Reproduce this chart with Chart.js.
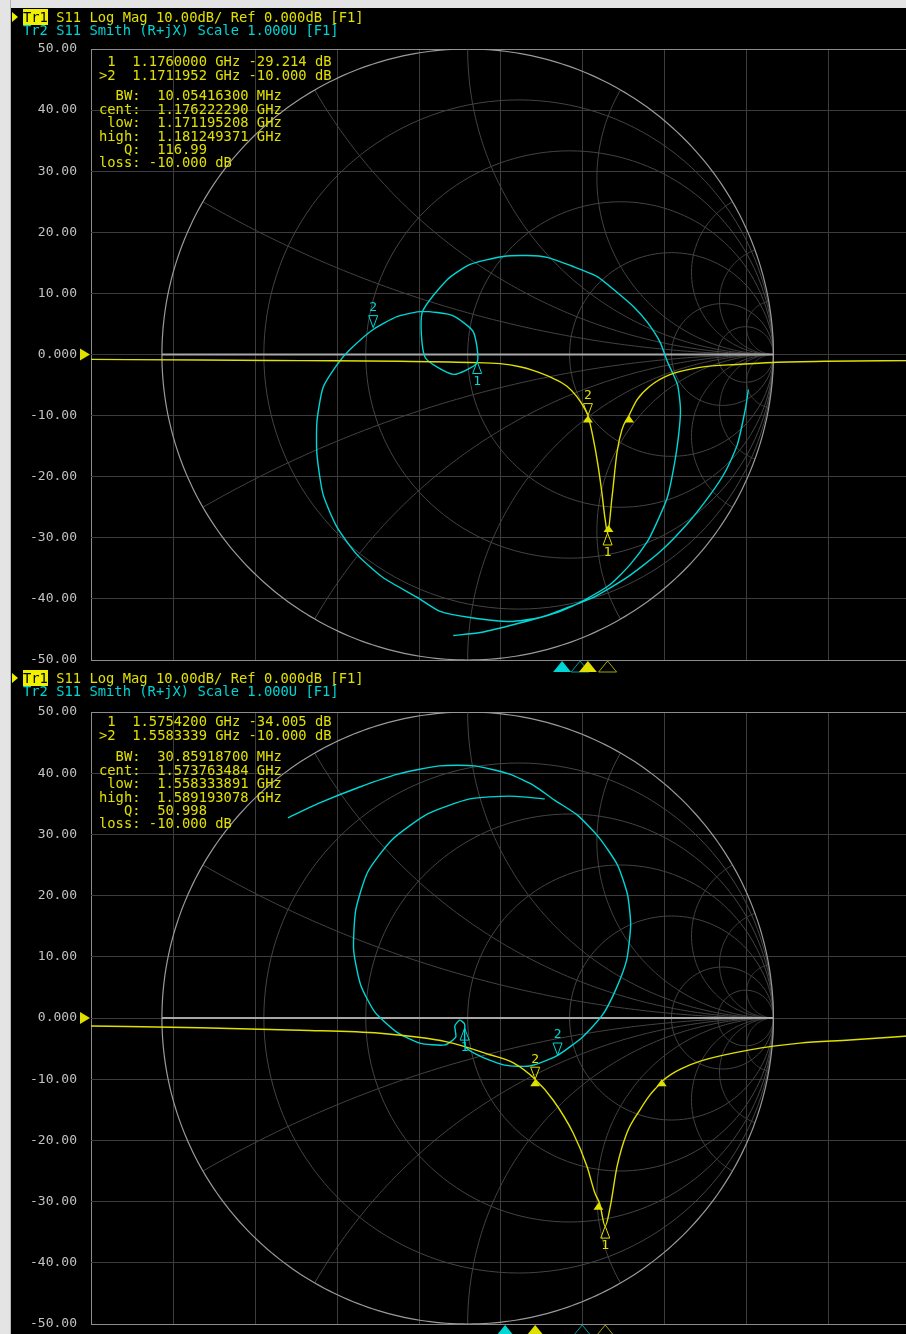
<!DOCTYPE html>
<html>
<head>
<meta charset="utf-8">
<title>S11 Log Mag / Smith</title>
<script src="https://cdn.jsdelivr.net/npm/chart.js@4.4.1/dist/chart.umd.min.js"></script>
<style>
  html, body { margin: 0; padding: 0; background: #000; overflow: hidden; }
  body { width: 906px; height: 1334px; position: relative; font-family: 'DejaVu Sans Mono', monospace; }
  canvas { position: absolute; left: 0; }
  #c1 { top: 0; }
  #c2 { top: 668px; }
  .txt { position: absolute; font-size: 13.8px; line-height: 13.4px; white-space: pre; }
  .yel { color: #e0e000; }
  .cya { color: #00d4d4; }
  .tr1 { background: #f0f000; color: #000; }
  .arrow { position: absolute; left: 12px; width: 0; height: 0; border-left: 6px solid #f0f000;
           border-top: 5px solid transparent; border-bottom: 5px solid transparent; }
  .frame-l { position: absolute; left: 0; top: 0; width: 10px; height: 1334px; background: #e4e4e4; border-right: 1px solid #b4b4b4; }
  .frame-t { position: absolute; left: 0; top: 0; width: 906px; height: 8px; background: #e4e4e4; }
</style>
</head>
<body>
<canvas id="c1" width="915" height="676"></canvas>
<canvas id="c2" width="915" height="666"></canvas>

<!-- upper screen -->
<div class="arrow" style="top:12px"></div>
<div class="txt" style="left:23px;top:11px"><span class="tr1">Tr1</span><span class="yel"> S11 Log Mag 10.00dB/ Ref 0.000dB [F1]</span>
<span class="cya">Tr2 S11 Smith (R+jX) Scale 1.000U [F1]</span></div>
<div class="txt yel" style="left:99px;top:55.3px"> 1  1.1760000 GHz -29.214 dB
>2  1.1711952 GHz -10.000 dB</div>
<div class="txt yel" style="left:99px;top:89.3px">  BW:  10.05416300 MHz
cent:  1.176222290 GHz
 low:  1.171195208 GHz
high:  1.181249371 GHz
   Q:  116.99
loss: -10.000 dB</div>

<!-- lower screen -->
<div class="arrow" style="top:673px"></div>
<div class="txt" style="left:23px;top:671.5px"><span class="tr1">Tr1</span><span class="yel"> S11 Log Mag 10.00dB/ Ref 0.000dB [F1]</span>
<span class="cya">Tr2 S11 Smith (R+jX) Scale 1.000U [F1]</span></div>
<div class="txt yel" style="left:99px;top:715.3px"> 1  1.5754200 GHz -34.005 dB
>2  1.5583339 GHz -10.000 dB</div>
<div class="txt yel" style="left:99px;top:750.3px">  BW:  30.85918700 MHz
cent:  1.573763484 GHz
 low:  1.558333891 GHz
high:  1.589193078 GHz
   Q:  50.998
loss: -10.000 dB</div>

<div class="frame-t"></div>
<div class="frame-l"></div>

<script>
// ---------- upper screen: 1.05 - 1.25 GHz ----------
const freq1 = [1.0500, 1.0766, 1.1010, 1.1254, 1.1424, 1.1498, 1.1546, 1.1578, 1.1627, 1.1661,
               1.1685, 1.1705, 1.1712, 1.1724, 1.1737, 1.1746, 1.1754, 1.1760, 1.1771, 1.1783,
               1.1795, 1.1812, 1.1832, 1.1863, 1.1912, 1.1985, 1.2083, 1.2163, 1.2295, 1.2500];
const logMag1 = [-0.8, -0.9, -1.0, -1.1, -1.3, -1.5, -2.0, -2.6, -3.9, -5.2,
                 -6.9, -9.0, -10.0, -13.4, -18.3, -22.6, -27.0, -29.2, -23.2, -16.0,
                 -12.3, -10.0, -7.4, -5.2, -3.3, -2.1, -1.6, -1.3, -1.1, -1.0];
// S11 as reflection coefficient (real, imag)
const smithRe1 = [0.918, 0.908, 0.882, 0.843, 0.794, 0.722, 0.630, 0.525, 0.411, 0.309, 0.237,
                  0.139, 0.008, -0.090, -0.165, -0.277, -0.362, -0.427, -0.473, -0.493, -0.493,
                  -0.473, -0.427, -0.385, -0.309, -0.231, -0.149, -0.051, 0.018, 0.031, -0.047,
                  -0.139, -0.149, -0.067, 0.008, 0.116, 0.195, 0.260, 0.345, 0.424, 0.489,
                  0.542, 0.588, 0.630, 0.653, 0.686, 0.696, 0.689, 0.673, 0.653, 0.620,
                  0.588, 0.532, 0.466, 0.385, 0.309, 0.237, 0.139, 0.041, -0.047];
const smithIm1 = [-0.115, -0.180, -0.295, -0.383, -0.458, -0.550, -0.645, -0.727, -0.795, -0.835, -0.861,
                  -0.874, -0.861, -0.841, -0.795, -0.730, -0.655, -0.566, -0.458, -0.327, -0.219,
                  -0.108, -0.033, 0.016, 0.082, 0.124, 0.141, 0.128, 0.075, -0.026, -0.065,
                  -0.010, 0.137, 0.245, 0.295, 0.321, 0.324, 0.318, 0.288, 0.255, 0.203,
                  0.157, 0.105, 0.039, -0.023, -0.098, -0.180, -0.272, -0.376, -0.468, -0.547,
                  -0.612, -0.687, -0.753, -0.802, -0.838, -0.861, -0.887, -0.910, -0.920];
const mkFreq1 = [1.1760000, 1.1711952];          // marker 1, marker 2
const mkVal1 = [-29.214, -10.000];
const bwFreq1 = [1.171195208, 1.176222290, 1.181249371];   // low, cent, high
const bwVal1 = [-10.0, -27.9, -10.0];
const smMkRe1 = [0.031, -0.309];
const smMkIm1 = [-0.023, 0.088];
const tr2MkFreq1 = [1.1693, 1.1649];

// ---------- lower screen: 1.45 - 1.65 GHz ----------
const freq2 = [1.4500, 1.4766, 1.5010, 1.5205, 1.5368, 1.5473, 1.5529, 1.5583, 1.5627, 1.5676,
               1.5710, 1.5729, 1.5741, 1.5754, 1.5766, 1.5783, 1.5807, 1.5839, 1.5863, 1.5880,
               1.5895, 1.5915, 1.5939, 1.5988, 1.6107, 1.6229, 1.6351, 1.6500];
const logMag2 = [-1.3, -1.6, -2.0, -2.5, -3.9, -6.0, -7.3, -10.0, -13.4, -18.8,
                 -24.3, -28.6, -30.4, -34.0, -31.0, -24.3, -18.8, -15.0, -12.6, -11.3,
                 -10.2, -9.2, -8.3, -7.0, -5.2, -4.1, -3.6, -2.9];
const smithRe2 = [-0.588, -0.484, -0.353, -0.229, -0.092, 0.023, 0.137, 0.219, 0.284, 0.359,
                  0.431, 0.490, 0.523, 0.533, 0.520, 0.484, 0.441, 0.376, 0.291, 0.203,
                  0.121, 0.046, -0.007, -0.010, -0.010, -0.026, -0.042, -0.039, -0.075, -0.157,
                  -0.232, -0.304, -0.350, -0.373, -0.366, -0.327, -0.248, -0.131, 0.007, 0.137, 0.252];
const smithIm2 = [0.654, 0.703, 0.755, 0.797, 0.824, 0.824, 0.797, 0.758, 0.712, 0.663,
                  0.588, 0.500, 0.402, 0.304, 0.190, 0.092, 0.010, -0.062, -0.124, -0.157,
                  -0.154, -0.127, -0.095, -0.052, -0.020, -0.007, -0.026, -0.062, -0.088, -0.082,
                  -0.046, 0.020, 0.108, 0.222, 0.353, 0.477, 0.582, 0.667, 0.716, 0.725, 0.716];
const mkFreq2 = [1.5754200, 1.5583339];
const mkVal2 = [-34.005, -10.000];
const bwFreq2 = [1.558333891, 1.573763484, 1.589193078];
const bwVal2 = [-10.0, -30.2, -10.0];
const smMkRe2 = [-0.010, 0.294];
const smMkIm2 = [-0.033, -0.121];
const tr2MkFreq2 = [1.5698, 1.5510];

// Smith grid: resistance circles and reactance arcs
const smithR = [0.2, 0.5, 1, 2, 5, 10];
const smithX = [0.268, 0.577, 1, 1.732, 3.732, 5.671, 11.43];

const YEL = '#e0e000', YEL_DIM = '#a4a400';
const CYA = '#00d6d6', CYA_DIM = '#009c9c';

Chart.defaults.font.family = "'DejaVu Sans Mono', monospace";

function tri(ctx, x, y, w, h, dir) {
    // tip at (x, y); dir 1 = pointing up, -1 = pointing down
    ctx.beginPath();
    ctx.moveTo(x, y);
    ctx.lineTo(x - w / 2, y + dir * h);
    ctx.lineTo(x + w / 2, y + dir * h);
    ctx.closePath();
}

const smithGrid = {
    id: 'smithGrid',
    beforeDatasetsDraw(chart) {
        const { ctx, chartArea: a } = chart;
        const sx = chart.scales.sx, sy = chart.scales.sy;
        const path = pts => {
            ctx.beginPath();
            pts.forEach(([re, im], i) => {
                const px = sx.getPixelForValue(re), py = sy.getPixelForValue(im);
                i ? ctx.lineTo(px, py) : ctx.moveTo(px, py);
            });
            ctx.stroke();
        };
        const arc = (cx, cy, r, a0, a1, n = 160) => {
            const pts = [];
            for (let i = 0; i <= n; i++) {
                const t = a0 + (a1 - a0) * i / n;
                pts.push([cx + r * Math.cos(t), cy + r * Math.sin(t)]);
            }
            return pts;
        };

        ctx.save();
        ctx.beginPath();
        ctx.rect(a.left, a.top, a.right - a.left, a.bottom - a.top);
        ctx.clip();

        ctx.strokeStyle = '#444444';
        ctx.lineWidth = 1;
        smithR.forEach(r => path(arc(r / (1 + r), 0, 1 / (1 + r), 0, 2 * Math.PI)));
        smithX.forEach(x => {
            const ex = (x * x - 1) / (x * x + 1), ey = 2 * x / (x * x + 1);
            let end = Math.atan2(ey - 1 / x, ex - 1);
            if (end > -Math.PI / 2) end -= 2 * Math.PI;
            const pts = arc(1, 1 / x, 1 / x, -Math.PI / 2, end);
            path(pts);
            path(pts.map(([u, v]) => [u, -v]));
        });

        ctx.strokeStyle = '#9a9a9a';
        ctx.lineWidth = 1.2;
        path(arc(0, 0, 1, 0, 2 * Math.PI, 360));
        ctx.strokeStyle = '#a8a8a8';
        ctx.lineWidth = 2;
        path([[-1, 0], [1, 0]]);
        ctx.restore();
    }
};

function markerPlugin(d) {
    return {
        id: 'markers',
        afterDatasetsDraw(chart) {
            const { ctx, chartArea: a } = chart;
            const { x, y, sx, sy } = chart.scales;
            ctx.save();
            ctx.font = "13px 'DejaVu Sans Mono'";
            ctx.textAlign = 'center';
            ctx.textBaseline = 'middle';
            ctx.lineWidth = 1;

            // bandwidth search markers (low, cent, high)
            ctx.fillStyle = YEL;
            d.bwFreq.forEach((f, i) => {
                tri(ctx, x.getPixelForValue(f), y.getPixelForValue(d.bwVal[i]), 10, 7, 1);
                ctx.fill();
            });

            // Tr1 markers: 1 below the trace, 2 above it
            d.mkFreq.forEach((f, i) => {
                const px = x.getPixelForValue(f), py = y.getPixelForValue(d.mkVal[i]);
                const dir = i === 0 ? 1 : -1;
                tri(ctx, px, py, 9, 12, dir);
                ctx.strokeStyle = YEL;
                ctx.stroke();
                ctx.fillStyle = YEL;
                ctx.fillText(String(i + 1), px, py + dir * 20);
            });

            // Tr2 markers on the Smith trace
            d.smMkRe.forEach((re, i) => {
                const px = sx.getPixelForValue(re), py = sy.getPixelForValue(d.smMkIm[i]);
                const dir = i === 0 ? 1 : -1;
                tri(ctx, px, py, 9, 12, dir);
                ctx.strokeStyle = CYA;
                ctx.stroke();
                ctx.fillStyle = CYA;
                ctx.fillText(String(i + 1), px, py + dir * 20);
            });

            // reference level arrow
            const ry = y.getPixelForValue(0);
            ctx.beginPath();
            ctx.moveTo(a.left - 1, ry);
            ctx.lineTo(a.left - 11, ry - 6);
            ctx.lineTo(a.left - 11, ry + 6);
            ctx.closePath();
            ctx.fillStyle = YEL;
            ctx.fill();

            // marker flags under the frequency axis
            const flag = (f, col, filled) => {
                tri(ctx, x.getPixelForValue(f), a.bottom + 1, 18, 11, 1);
                if (filled) { ctx.fillStyle = col; ctx.fill(); }
                else { ctx.fillStyle = '#000'; ctx.fill(); ctx.strokeStyle = col; ctx.stroke(); }
            };
            flag(d.tr2MkFreq[0], CYA_DIM, false);
            flag(d.mkFreq[0], YEL_DIM, false);
            flag(d.tr2MkFreq[1], CYA, true);
            flag(d.mkFreq[1], YEL, true);
            ctx.restore();
        }
    };
}

function buildChart(d) {
    const xt = Array.from({ length: 11 }, (_, i) => d.start + i * (d.stop - d.start) / 10);
    const gridColor = c => (c.index === 0 || c.index === c.scale.ticks.length - 1) ? '#8c8c8c' : '#3c3c3c';

    return new Chart(document.getElementById(d.canvas), {
        type: 'scatter',
        data: {
            datasets: [{
                label: 'Tr1 S11 Log Mag',
                data: d.freq.map((f, i) => ({ x: f, y: d.logMag[i] })),
                xAxisID: 'x', yAxisID: 'y',
                showLine: true, borderColor: YEL, borderWidth: 1.4,
                pointRadius: 0, cubicInterpolationMode: 'monotone'
            }, {
                label: 'Tr2 S11 Smith',
                data: d.re.map((r, i) => ({ x: r, y: d.im[i] })),
                xAxisID: 'sx', yAxisID: 'sy',
                showLine: true, borderColor: CYA, borderWidth: 1.4,
                pointRadius: 0, tension: 0.2
            }]
        },
        options: {
            responsive: false,
            animation: false,
            events: [],
            layout: { padding: { left: 0, right: 4, top: d.padTop, bottom: d.padBottom } },
            plugins: { legend: { display: false }, tooltip: { enabled: false } },
            scales: {
                x: {
                    type: 'linear', min: d.start, max: d.stop,
                    afterBuildTicks: s => { s.ticks = xt.map(v => ({ value: v })); },
                    afterFit: s => { s.height = 0; s.paddingLeft = 0; s.paddingRight = 0; },
                    ticks: { display: false },
                    grid: { color: gridColor, drawTicks: false },
                    border: { display: false }
                },
                y: {
                    min: -50, max: 50,
                    // fixed axis width; label padding must not push the plot area in
                    afterFit: s => { s.width = 91; s.paddingTop = 0; s.paddingBottom = 0; },
                    ticks: {
                        stepSize: 10, padding: 14, color: '#c2c2c2',
                        font: { size: 13, lineHeight: 1 },
                        callback: v => v === 0 ? '0.000' : v.toFixed(2)
                    },
                    grid: { color: gridColor, drawTicks: false },
                    border: { display: false }
                },
                sx: { type: 'linear', display: false, min: -1.232, max: 1.450 },
                sy: { type: 'linear', display: false, position: 'left', min: -1, max: 1 }
            }
        },
        plugins: [smithGrid, markerPlugin(d)]
    });
}

buildChart({
    canvas: 'c1', start: 1.05, stop: 1.25, padTop: 49, padBottom: 16,
    freq: freq1, logMag: logMag1, re: smithRe1, im: smithIm1,
    mkFreq: mkFreq1, mkVal: mkVal1, bwFreq: bwFreq1, bwVal: bwVal1,
    smMkRe: smMkRe1, smMkIm: smMkIm1, tr2MkFreq: tr2MkFreq1
});

buildChart({
    canvas: 'c2', start: 1.45, stop: 1.65, padTop: 44, padBottom: 10,
    freq: freq2, logMag: logMag2, re: smithRe2, im: smithIm2,
    mkFreq: mkFreq2, mkVal: mkVal2, bwFreq: bwFreq2, bwVal: bwVal2,
    smMkRe: smMkRe2, smMkIm: smMkIm2, tr2MkFreq: tr2MkFreq2
});
</script>
</body>
</html>
